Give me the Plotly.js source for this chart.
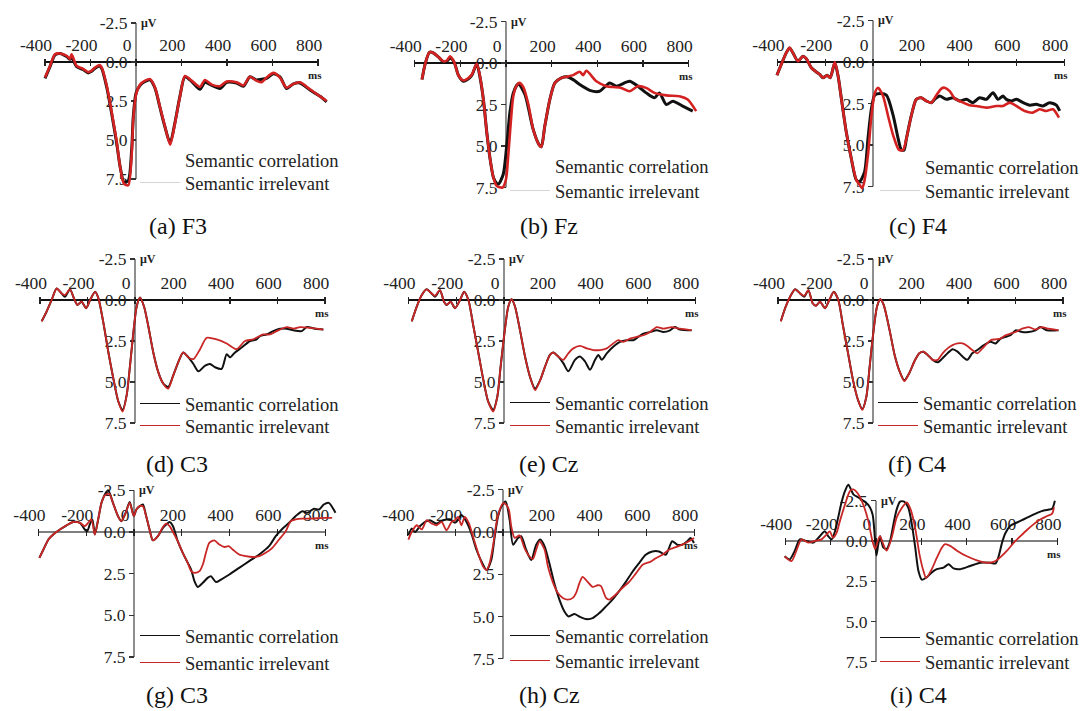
<!DOCTYPE html>
<html><head><meta charset="utf-8">
<script src="https://cdn.plot.ly/plotly-3.0.1.min.js"></script>
<style>html,body{margin:0;padding:0;background:#fff}#chart{width:1088px;height:711px}</style>
</head><body><div id="chart"></div>
<script>
// ---------- DATA (time in ms, amplitude in µV; positive plotted downward) ----------
const xTickVals = [-400, -200, 0, 200, 400, 600, 800];
const xTickText = ['-400', '-200', '0', '200', '400', '600', '800'];
const yTickVals = [-2.5, 0, 2.5, 5, 7.5];
const yTickText = ['-2.5', '0.0', '2.5', '5.0', '7.5'];
const seriesNames = ['Semantic correlation', 'Semantic irrelevant'];
const captions = ['(a) F3', '(b) Fz', '(c) F4', '(d) C3', '(e) Cz', '(f) C4', '(g) C3', '(h) Cz', '(i) C4'];

// (a) F3
const a_t = [-400,-378,-356,-334,-305,-290,-283,-261,-231,-210,-195,-180,-161,-151,-129,-107,-85,-70,-53,-34,-19,-12,0,18,40,62,84,105,127,150,171,193,215,245,281,303,333,369,399,442,472,501,530,552,574,604,633,662,692,721,765,809,838];
const a_cor = [1.05,0.3,-0.45,-0.55,-0.35,-0.17,-0.3,0.3,0.5,0.7,0.6,0.4,0.25,0.4,1.6,3.3,5.2,6.7,7.7,7.6,5.6,3.5,2.0,1.5,1.25,1.15,1.7,2.9,4.15,5.2,3.9,2.2,0.95,1.25,1.75,1.3,1.5,1.7,1.3,1.35,1.55,0.95,1.15,1.1,1.05,0.75,0.95,1.7,1.4,1.35,1.8,2.2,2.55];
const a_irr = [1.0,0.25,-0.5,-0.55,-0.4,-0.2,-0.5,0.25,0.45,0.65,0.55,0.35,0.2,0.35,1.5,3.2,5.1,6.7,7.8,7.9,5.9,3.7,2.1,1.45,1.2,1.1,1.65,2.85,4.1,5.3,3.95,2.25,0.9,1.2,1.6,1.15,1.45,1.55,1.25,1.3,1.5,0.95,1.2,1.3,1.0,0.7,1.0,1.65,1.4,1.3,1.75,2.2,2.5];

// (b) Fz
const b_t_cor = [-368,-354,-335,-317,-295,-274,-259,-245,-227,-208,-186,-169,-150,-128,-114,-99,-84,-70,-55,-41,-33,-12,3,17,32,54,83,98,119,146,155,170,192,214,243,265,294,323,367,410,454,483,541,578,614,651,672,702,731,774,818];
const b_cor = [1.0,0.05,-0.65,-0.6,-0.35,-0.05,-0.1,-0.3,-0.05,0.75,1.1,1.0,0.75,0.05,0.85,2.2,4.2,5.75,6.9,7.25,7.3,6.7,5.0,3.0,1.8,1.25,1.9,2.7,4.0,4.95,5.05,3.8,2.2,1.2,0.9,0.83,1.0,1.3,1.65,1.7,1.2,1.4,1.1,1.4,1.8,2.1,1.8,2.5,2.3,2.6,2.9];
const b_t_irr = [-368,-354,-335,-317,-295,-274,-259,-245,-227,-208,-186,-169,-150,-128,-114,-99,-84,-70,-55,-41,-15,0,10,22,32,47,58,76,98,119,146,155,170,192,214,243,265,294,323,338,352,396,440,469,505,541,578,614,651,702,760,796,833];
const b_irr = [1.0,0.05,-0.65,-0.6,-0.35,-0.1,-0.15,-0.4,-0.05,0.75,1.05,0.95,0.7,0.05,0.8,2.2,4.2,5.75,6.9,7.4,7.5,7.0,5.55,3.4,2.0,1.35,1.2,1.45,2.5,4.0,4.95,5.05,3.8,2.2,1.2,0.9,0.83,0.73,0.53,0.73,0.47,1.1,1.4,1.45,1.5,1.7,1.4,1.5,1.8,1.95,2.0,2.2,2.9];

// (c) F4
const c_t_cor = [-402,-384,-363,-349,-335,-314,-293,-279,-258,-237,-223,-209,-192,-179,-160,-146,-132,-112,-91,-70,-56,-35,-21,-7,7,30,56,84,105,119,130,140,160,181,202,223,244,258,279,307,335,363,391,418,446,474,502,523,544,558,579,600,628,656,683,711,739,767,781];
const c_cor = [0.8,0.15,-0.55,-0.85,-0.55,-0.05,-0.35,-0.2,0.35,0.6,0.75,0.95,0.8,0.95,0.05,0.85,2.25,4.2,5.8,7.1,7.2,6.6,4.6,2.85,2.0,1.9,2.0,3.2,4.6,5.3,5.3,4.6,3.25,2.25,2.15,2.35,2.45,2.25,2.05,2.25,2.15,2.35,2.25,2.45,2.15,2.25,1.85,2.25,2.05,2.25,2.35,2.25,2.45,2.6,2.55,2.65,2.45,2.6,2.95];
const c_t_irr = [-402,-384,-363,-349,-335,-314,-293,-279,-258,-237,-223,-209,-192,-179,-160,-146,-132,-112,-91,-70,-56,-45,-35,-21,-7,7,21,42,63,84,109,126,140,160,181,202,223,244,265,286,300,321,342,377,404,432,474,516,544,572,600,635,669,697,725,753,778];
const c_irr = [0.8,0.15,-0.55,-0.85,-0.55,-0.05,-0.35,-0.2,0.35,0.6,0.75,0.95,0.8,0.95,0.0,0.85,2.25,4.2,5.8,7.1,7.4,7.6,7.1,5.6,3.3,1.9,1.55,2.05,3.25,4.4,5.3,5.3,4.6,3.25,2.25,2.15,2.35,2.45,2.0,1.6,1.55,1.75,2.2,2.45,2.6,2.65,2.75,2.65,2.65,2.45,2.65,2.95,3.05,2.85,2.95,2.85,3.35];

// (d) C3
const d_t_cor = [-393,-372,-351,-330,-309,-295,-274,-257,-243,-225,-206,-189,-168,-154,-133,-112,-91,-70,-52,-35,-21,-7,7,21,38,56,77,98,119,140,161,182,203,225,246,267,295,316,337,365,386,400,421,449,484,512,526,554,582,611,639,667,702,723,758,793];
const d_cor = [1.3,0.7,0.0,-0.7,-0.4,-0.2,-0.65,-0.1,0.3,0.1,0.5,0.0,-0.5,-0.1,1.4,3.2,4.8,6.2,6.7,5.8,4.0,2.0,0.4,-0.15,0.4,1.6,3.2,4.4,5.1,5.3,4.6,3.8,3.2,3.5,3.9,4.35,4.0,3.9,4.1,4.2,3.3,3.5,3.2,2.9,2.5,2.4,2.2,2.1,1.9,1.75,1.75,1.85,1.9,1.65,1.75,1.8];
const d_t_irr = [-393,-372,-351,-330,-309,-295,-274,-257,-243,-225,-206,-189,-168,-154,-133,-112,-91,-70,-52,-35,-21,-7,7,21,38,56,77,98,119,140,161,182,203,225,246,274,302,344,386,428,463,498,540,568,596,639,667,695,737,793];
const d_irr = [1.3,0.7,0.0,-0.7,-0.4,-0.3,-0.65,-0.1,0.3,0.1,0.5,0.0,-0.5,-0.1,1.4,3.2,4.8,6.2,6.8,5.8,4.0,2.0,0.4,-0.15,0.4,1.6,3.2,4.4,5.1,5.4,4.6,3.8,3.2,3.5,3.6,3.0,2.3,2.4,2.65,3.0,2.5,2.4,2.1,2.1,1.9,1.65,1.75,1.65,1.7,1.8];

// (e) Cz
const e_t_cor = [-386,-365,-344,-324,-303,-289,-268,-251,-240,-223,-205,-184,-167,-149,-128,-107,-86,-66,-45,-28,-14,0,18,32,46,67,88,109,130,151,172,192,206,227,248,269,297,318,339,360,381,395,409,430,457,485,513,541,562,583,611,639,667,695,715,736,785];
const e_cor = [1.3,0.4,-0.3,-0.65,-0.4,-0.2,-0.6,0.1,0.3,0.1,0.5,0.0,-0.5,0.0,1.6,3.25,4.9,6.2,6.7,5.9,4.05,2.25,0.4,-0.05,0.4,1.85,3.45,4.7,5.4,4.9,4.05,3.35,3.2,3.45,3.85,4.35,3.65,3.45,3.75,4.25,3.65,3.35,3.65,3.25,2.85,2.55,2.45,2.45,2.25,2.05,1.95,1.85,1.95,1.85,1.65,1.8,1.85];
const e_t_irr = [-386,-365,-344,-324,-303,-289,-268,-251,-240,-223,-205,-184,-167,-149,-128,-107,-86,-66,-45,-28,-14,0,18,32,46,67,88,109,130,151,172,192,206,227,248,269,290,318,346,374,402,430,457,478,499,527,555,583,611,639,667,702,736,785];
const e_irr = [1.3,0.4,-0.3,-0.65,-0.4,-0.25,-0.6,0.1,0.3,0.1,0.5,0.0,-0.5,0.0,1.6,3.25,4.9,6.2,6.8,5.9,4.05,2.25,0.4,-0.05,0.4,1.85,3.45,4.7,5.5,4.9,4.05,3.35,3.2,3.45,3.65,3.25,2.95,2.8,2.95,3.05,3.05,2.95,2.65,2.45,2.55,2.35,2.25,2.15,1.95,1.65,1.75,1.65,1.75,1.85];

// (f) C4
const f_t_cor = [-388,-370,-349,-328,-307,-290,-272,-254,-240,-223,-202,-184,-165,-146,-126,-105,-84,-63,-45,-28,-14,0,17,31,45,70,91,112,132,153,174,195,212,230,251,272,293,314,335,356,377,397,418,439,467,495,516,537,558,579,600,628,655,684,704,732,781];
const f_cor = [1.3,0.5,-0.2,-0.65,-0.4,-0.2,-0.6,0.2,0.35,0.1,0.5,0.0,-0.5,0.0,1.6,3.25,4.9,6.1,6.65,5.9,4.05,2.15,0.4,-0.05,0.3,1.85,3.35,4.35,4.9,4.45,3.75,3.25,3.15,3.35,3.65,3.8,3.55,3.25,3.0,3.15,3.45,3.65,3.25,3.05,2.75,2.55,2.65,2.35,2.25,2.15,1.85,1.95,1.95,1.85,1.65,1.85,1.85];
const f_t_irr = [-388,-370,-349,-328,-307,-290,-272,-254,-240,-223,-202,-184,-165,-146,-126,-105,-84,-63,-45,-28,-14,0,17,31,45,70,91,112,132,153,174,195,212,230,251,272,293,314,335,356,377,397,418,439,467,495,516,537,558,579,600,628,655,684,711,739,781];
const f_irr = [1.3,0.5,-0.2,-0.65,-0.4,-0.25,-0.6,0.2,0.35,0.1,0.5,0.0,-0.5,0.0,1.6,3.25,4.9,6.1,6.7,5.9,4.05,2.15,0.4,-0.05,0.3,1.85,3.35,4.35,4.95,4.45,3.75,3.25,3.15,3.35,3.65,3.65,3.25,2.95,2.75,2.65,2.65,2.8,3.05,3.25,2.85,2.45,2.4,2.35,2.15,2.05,1.95,1.75,1.65,1.8,1.65,1.75,1.85];

// (g) C3
const g_t_cor = [-396,-379,-358,-338,-310,-282,-254,-226,-206,-196,-185,-174,-164,-150,-136,-122,-108,-88,-67,-53,-35,-18,-1,10,24,37,51,65,79,100,121,135,149,163,183,204,225,239,253,267,288,308,322,343,364,399,440,482,524,565,593,621,649,676,704,725,753,774,794,815,843];
const g_cor = [1.55,1.05,0.45,0.15,-0.15,-0.4,-0.6,-0.55,-0.15,-0.05,-0.45,-0.75,0.15,-0.75,-1.75,-2.25,-2.5,-1.75,-0.95,-0.65,-1.15,-1.8,-0.95,-1.35,-1.55,-1.65,-0.95,-0.15,0.5,0.25,-0.25,-0.45,-0.6,-0.35,0.55,1.25,1.85,2.25,2.95,3.3,3.05,2.75,2.65,3.0,2.85,2.55,2.15,1.75,1.35,0.85,0.25,-0.2,-0.55,-0.95,-1.25,-1.15,-1.4,-1.35,-1.65,-1.75,-1.15];
const g_t_irr = [-396,-379,-358,-338,-310,-282,-254,-226,-206,-192,-178,-164,-150,-136,-122,-104,-88,-67,-53,-35,-18,-1,10,24,37,51,65,79,100,121,135,149,163,183,204,225,239,253,274,288,301,315,336,357,378,396,413,440,468,496,524,551,579,607,635,656,676,704,746,788,829];
const g_irr = [1.55,1.05,0.45,0.15,-0.15,-0.4,-0.6,-0.55,-0.35,-0.55,-0.75,0.15,-0.75,-1.75,-2.2,-2.3,-1.75,-0.95,-0.65,-1.15,-1.75,-0.95,-1.35,-1.55,-1.55,-0.95,-0.15,0.5,0.25,-0.3,-0.5,-0.35,0.0,0.55,1.25,1.85,2.35,2.45,2.35,1.95,1.25,0.65,0.5,0.75,0.9,0.85,1.05,1.35,1.45,1.5,1.45,1.25,0.95,0.45,-0.05,-0.65,-0.75,-0.8,-0.8,-0.85,-0.85];

// (h) Cz
const h_t_cor = [-396,-382,-368,-347,-326,-306,-278,-250,-222,-201,-192,-174,-153,-132,-111,-90,-69,-49,-35,-21,-7,11,28,42,63,76,97,118,139,156,174,194,215,236,257,275,299,319,347,375,403,431,458,486,514,542,569,597,625,653,681,708,729,750,771,785,799];
const h_cor = [0.2,-0.2,0.0,-0.35,-0.6,-0.7,-0.5,-0.7,-0.75,-0.55,-0.65,-1.0,-0.6,0.1,1.05,1.75,2.25,1.65,0.3,-0.9,-1.5,-1.8,-0.7,0.75,0.35,0.25,1.05,1.65,0.75,0.45,0.85,1.85,3.05,4.0,4.7,5.0,4.85,5.0,5.15,5.1,4.8,4.4,4.0,3.5,2.95,2.35,1.85,1.35,1.15,1.15,1.35,0.55,0.75,0.75,0.55,0.35,0.65];
const h_t_irr = [-396,-382,-361,-340,-319,-299,-278,-257,-236,-215,-201,-188,-174,-160,-142,-125,-104,-83,-69,-56,-42,-28,-14,0,14,25,35,49,69,90,111,125,139,153,174,188,208,229,250,271,292,306,319,333,354,375,396,410,431,444,472,500,528,556,583,597,618,639,667,694,722,750,778,799];
const h_irr = [0.45,0.0,-0.4,-0.15,-0.7,-0.5,-0.4,-0.6,-0.1,-0.6,-0.7,-0.9,-0.4,-0.9,-0.5,0.3,1.25,2.05,2.25,1.85,0.85,-0.5,-1.3,-1.7,-1.6,-1.3,-0.3,0.35,0.2,0.95,1.45,1.6,1.05,0.55,1.05,2.05,2.95,3.6,3.9,4.0,3.9,3.6,3.05,2.65,2.95,3.25,3.15,3.2,3.9,4.0,3.7,3.3,2.95,2.45,1.95,1.85,1.75,1.55,1.35,1.05,0.9,0.75,0.55,0.35];

// (i) C4
const i_t_cor = [-403,-381,-358,-336,-307,-277,-248,-226,-211,-196,-181,-167,-152,-137,-122,-100,-78,-56,-34,-15,-4,2,10,18,32,47,62,77,91,106,124,143,158,173,187,202,224,246,268,298,320,342,372,416,460,504,527,541,556,571,593,622,652,681,711,740,763,777,789];
const i_cor = [0.95,1.15,0.6,-0.1,0.0,0.1,-0.3,-0.6,-0.3,-0.1,-0.6,-1.45,-2.4,-3.1,-3.5,-2.9,-2.7,-2.5,-2.25,-1.65,0.0,0.9,0.2,-0.3,0.4,0.5,0.0,-1.05,-1.95,-2.45,-2.45,-2.05,-1.05,0.4,1.85,2.4,2.25,1.95,1.75,1.65,1.45,1.7,1.75,1.55,1.35,1.35,1.4,0.95,0.1,-0.5,-0.95,-1.15,-1.35,-1.55,-1.75,-1.9,-1.95,-2.0,-2.5];
const i_t_irr = [-403,-373,-351,-329,-299,-270,-240,-218,-204,-189,-174,-159,-137,-115,-100,-78,-56,-34,-19,-4,10,18,32,47,69,91,114,136,153,173,192,209,221,246,268,291,305,327,357,401,445,490,519,549,578,608,637,667,696,726,755,777,785];
const i_irr = [0.95,1.25,0.6,-0.1,0.1,0.0,-0.1,-0.4,-0.6,-0.2,-0.5,-1.25,-2.25,-3.1,-3.2,-2.9,-2.25,-1.25,-0.2,0.5,-0.1,-0.3,0.2,0.6,-0.2,-1.45,-2.05,-2.4,-1.95,-0.8,0.85,1.85,2.3,1.75,1.05,0.4,0.2,0.3,0.6,0.95,1.2,1.35,1.3,1.0,0.6,0.1,-0.3,-0.7,-1.05,-1.35,-1.55,-1.7,-2.1];

// ---------- LAYOUT GEOMETRY (pixels) ----------
const W = 1088, H = 711;
const FONT = 'Liberation Serif, Times New Roman, serif';
const panels = [
  {tc:a_t, vc:a_cor, ti:a_t, vi:a_irr, x0:136, xs:0.2275, y0:62, ys:15.6, row:1, legX:185, legY:[159,182], cap:[178,226]},
  {tc:b_t_cor, vc:b_cor, ti:b_t_irr, vi:b_irr, x0:506, xs:0.2283, y0:63, ys:16.6, row:1, legX:555, legY:[165,190], cap:[549,226]},
  {tc:c_t_cor, vc:c_cor, ti:c_t_irr, vi:c_irr, x0:873, xs:0.239, y0:62, ys:16.6, row:1, legX:925, legY:[166,190], cap:[918,226]},
  {tc:d_t_cor, vc:d_cor, ti:d_t_irr, vi:d_irr, x0:135, xs:0.2375, y0:300, ys:16.4, row:2, legX:185, legY:[403,425], cap:[177,464]},
  {tc:e_t_cor, vc:e_cor, ti:e_t_irr, vi:e_irr, x0:504, xs:0.239, y0:300, ys:16.4, row:2, legX:555, legY:[402,425], cap:[548,464]},
  {tc:f_t_cor, vc:f_cor, ti:f_t_irr, vi:f_irr, x0:873, xs:0.2375, y0:300, ys:16.4, row:2, legX:923, legY:[402,425], cap:[917,464]},
  {tc:g_t_cor, vc:g_cor, ti:g_t_irr, vi:g_irr, x0:134, xs:0.239, y0:532, ys:16.67, row:3, legX:185, legY:[635,662], cap:[177,695]},
  {tc:h_t_cor, vc:h_cor, ti:h_t_irr, vi:h_irr, x0:503, xs:0.239, y0:532, ys:16.9, row:3, legX:555, legY:[635,660], cap:[549,695]},
  {tc:i_t_cor, vc:i_cor, ti:i_t_irr, vi:i_irr, x0:876, xs:0.2267, y0:541, ys:16.1, row:3, legX:925, legY:[637,661], cap:[918,695]}
];

const XR = [-430, 870];
const ITEMW = 40;
const traces = [];
const layout = {
  width: W, height: H, margin: {l:0, r:0, t:0, b:0},
  paper_bgcolor: '#fff', plot_bgcolor: 'rgba(0,0,0,0)',
  showlegend: true, shapes: [], annotations: [],
  font: {family: FONT, color: '#222'}
};

panels.forEach((p, k) => {
  const n = k + 1;
  const sx = n === 1 ? '' : String(n);
  const xa = 'x' + sx, ya = 'y' + sx;
  const yTop = p.row === 3 ? -4.3 : -3.7, yBot = 8.3;
  const black = '#111', red = p.row === 1 ? '#d42222' : '#c92626';

  traces.push({x: p.tc, y: p.vc, xaxis: xa, yaxis: ya, mode: 'lines', name: seriesNames[0],
    line: {color: black, width: p.row === 1 ? 3 : 2, shape: 'spline', smoothing: 0.7},
    showlegend: false, hoverinfo: 'skip'});
  traces.push({x: p.ti, y: p.vi, xaxis: xa, yaxis: ya, mode: 'lines', name: seriesNames[1],
    line: {color: red, width: p.row === 1 ? 2.6 : 1.8, shape: 'spline', smoothing: 0.7},
    showlegend: false, hoverinfo: 'skip'});

  // legend keys (thin lines as in the original; faint in the top row)
  const keyColors = p.row === 1 ? ['rgba(0,0,0,0)', '#d4d4d4'] : [black, red];
  [0, 1].forEach(j => {
    const lid = 'legend' + (2 * k + j + 1 === 1 ? '' : String(2 * k + j + 1));
    traces.push({x: [null], y: [null], xaxis: xa, yaxis: ya, mode: 'lines', name: seriesNames[j],
      line: {color: keyColors[j], width: 1.1}, legend: lid, hoverinfo: 'skip'});
    layout[lid] = {
      x: (p.legX - ITEMW - 10) / W, y: 1 - (p.legY[j] - 18) / H, xanchor: 'left', yanchor: 'top',
      bgcolor: 'rgba(0,0,0,0)', borderwidth: 0, itemwidth: ITEMW,
      font: {family: FONT, size: 18.5, color: '#222'}, itemclick: false, itemdoubleclick: false
    };
  });

  layout['xaxis' + sx] = {
    domain: [(p.x0 + XR[0] * p.xs) / W, (p.x0 + XR[1] * p.xs) / W], range: XR,
    anchor: 'free', position: 1 - (p.y0 + 3.5) / H, side: 'top',
    showline: false, showgrid: false, zeroline: false,
    ticks: 'outside', ticklen: 7, tickwidth: 1.2, tickcolor: '#222',
    tickvals: xTickVals, ticktext: xTickText, ticklabelshift: -9, ticklabelstandoff: 1,
    tickfont: {family: FONT, size: 17.5, color: '#222'}, fixedrange: true, layer: 'below traces'
  };
  layout['yaxis' + sx] = {
    domain: [1 - (p.y0 + yBot * p.ys) / H, 1 - (p.y0 + yTop * p.ys) / H], range: [yBot, yTop],
    anchor: 'free', position: p.x0 / W, side: 'left',
    showline: false, showgrid: false, zeroline: false,
    ticks: 'outside', ticklen: 5, tickwidth: 1.2, tickcolor: '#333',
    tickvals: yTickVals, ticktext: yTickText,
    tickfont: {family: FONT, size: 17.5, color: '#222'}, fixedrange: true, layer: 'below traces'
  };
  // axis lines drawn in data coordinates
  layout.shapes.push({type: 'line', xref: xa, yref: ya, x0: xTickVals[0], x1: xTickVals[xTickVals.length - 1], y0: 0, y1: 0,
    line: {color: p.row === 3 ? '#555' : '#111', width: p.row === 3 ? 1.3 : 2}, layer: 'below'});
  layout.shapes.push({type: 'line', xref: xa, yref: ya, x0: 0, x1: 0, y0: yTickVals[0], y1: yTickVals[yTickVals.length - 1],
    line: {color: '#444', width: 1.2}, layer: 'below'});
  // unit labels
  layout.annotations.push({xref: xa, yref: ya, x: 0, y: yTickVals[0], text: '<b>μV</b>', showarrow: false,
    xanchor: 'left', yanchor: 'middle', xshift: 3, font: {family: FONT, size: 12, color: '#222'}});
  layout.annotations.push({xref: xa, yref: ya, x: 800, y: 0, text: '<b>ms</b>', showarrow: false,
    xanchor: 'center', yanchor: 'top', yshift: -5, xshift: -3, font: {family: FONT, size: 11, color: '#222'}});
  // caption
  layout.annotations.push({xref: 'paper', yref: 'paper', x: p.cap[0] / W, y: 1 - p.cap[1] / H, text: captions[k],
    showarrow: false, xanchor: 'center', yanchor: 'middle', font: {family: FONT, size: 24, color: '#111'}});
});

Plotly.newPlot('chart', traces, layout, {displayModeBar: false, staticPlot: true});
</script></body></html>
